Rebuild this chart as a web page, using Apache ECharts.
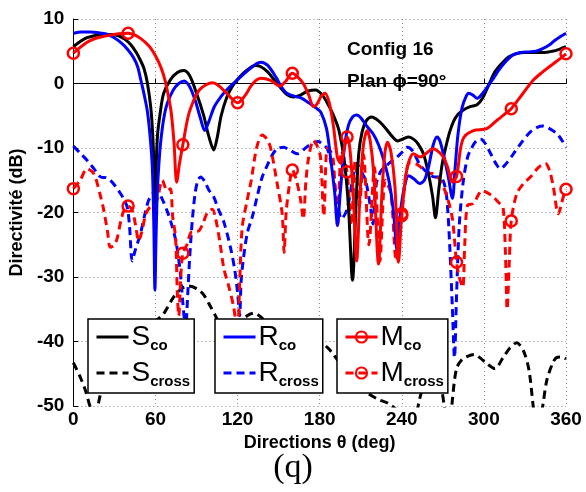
<!DOCTYPE html>
<html>
<head>
<meta charset="utf-8">
<script src="https://cdn.jsdelivr.net/npm/echarts@6/dist/echarts.min.js"></script>
<style>
html,body{margin:0;padding:0;background:#fff;}
#chart{width:586px;height:492px;}
</style>
</head>
<body>
<div id="chart"></div>
<script>
// ---- data (angle in degrees, directivity in dB) ----
const xTicks = [0, 60, 120, 180, 240, 300, 360];
const yTicks = [-50, -40, -30, -20, -10, 0, 10];
const markerAngles = [0, 40, 80, 120, 160, 200, 240, 280, 320, 360];

const sCo = [[0,5.7],[5,6.5],[10,7.1],[15,7.4],[20,7.6],[27,7.6],[33,7.4],[38,6.8],[42,6.0],[46,4.8],[49,3.6],[51.5,2.4],[54,0.2],[56.5,-3.6],[58,-8],[59,-14],[59.6,-29],[60.3,-15],[61.5,-8],[63.7,-4.2],[66,-1.5],[71,0.6],[76,1.7],[80.6,2.0],[85,1.2],[90,-1.5],[95,-4.8],[99,-8.2],[102.6,-10.3],[105,-8.5],[108,-5],[112,-2.2],[116,-0.5],[121,0.9],[127,2.1],[133,2.8],[137,2.6],[142,1.8],[147,0.5],[152,-0.8],[156,-1.7],[161,-2.1],[166,-1.8],[171,-1.2],[177,-1.0],[182,-1.8],[186,-3.2],[190,-4.9],[194,-7.2],[198,-12],[201,-19],[204,-30.5],[206.5,-19],[208.5,-11],[211,-7.5],[214,-5.8],[218,-5.2],[223,-5.8],[228,-6.9],[233,-8.2],[237,-8.9],[241,-8.6],[245,-8.3],[249,-8.7],[252,-9.4],[256,-11],[259.5,-14],[262.5,-17.5],[264.6,-20.8],[267,-16.5],[269.5,-12.5],[272,-10],[275,-7.5],[278,-5.8],[281,-4.8],[285,-4.1],[290,-3.6],[295,-3.3],[299,-2.3],[304,0],[308,1.8],[313,3.1],[318,4.1],[323,4.6],[330,4.8],[337,4.8],[344,4.8],[350,5.0],[355,5.3],[360,5.7]];

const sCross = [[0,-43.3],[5,-45.5],[9,-47.7],[13,-50.5],[16,-51],[20,-48],[28,-43],[36,-40],[45,-38.5],[55,-37.5],[62,-36.5],[66,-35.7],[73,-33.2],[79,-31.8],[84,-31.4],[90,-31.8],[95,-32.7],[100,-34.5],[105,-36.5],[110,-38.5],[115,-39],[120,-37.5],[127,-36],[132,-35.6],[137,-36.2],[145,-38],[155,-39],[165,-39.5],[172,-39.5],[180,-40],[186,-41],[190,-42],[197,-44],[205,-46],[215,-48],[223,-49],[230,-49.6],[238,-51],[244,-54],[247,-56],[251,-51],[256,-47],[262,-46.5],[268,-47],[271,-50],[274,-56],[277,-49],[280,-44.2],[284,-42.8],[288,-42.3],[293,-42],[297,-42.5],[302,-43.4],[308,-44.2],[314,-42.5],[319,-41],[324,-40.2],[329,-41.5],[333,-44.5],[336,-50],[339,-55],[343,-50],[346,-46],[350,-43.5],[353,-42.5],[357,-42.4],[360,-42.7]];

const rCo = [[0,7.8],[6,8.0],[12.7,8.0],[20,7.8],[25,7.6],[29,7.2],[35,6.3],[40,5.2],[44,4.0],[47,2.6],[49,0.8],[51.5,-1.5],[54,-4.2],[56,-8],[57.7,-13],[58.8,-22],[59.6,-32],[60.4,-24],[61.3,-17],[62.5,-12.5],[63.7,-9.3],[66,-5.5],[68.6,-3.1],[73,-1],[77,0],[81,0.4],[85,-0.5],[89,-2.6],[93,-5.5],[96,-7.3],[99,-5.9],[103,-3.6],[108,-2.0],[112,-1.0],[120,0.6],[128,2.1],[134,3.1],[137,3.3],[142,2.8],[148,1.0],[152,-0.5],[156,-1.5],[162,-2.0],[166,-2.2],[172,-3.0],[178,-3.9],[181,-4.5],[185,-7],[188,-11.6],[191,-17],[193,-22],[195,-17],[198,-10],[201,-6.5],[204,-5.2],[207,-4.9],[210,-5.3],[214,-6.5],[219,-7.8],[223,-9.5],[227,-12],[231,-15.5],[234,-20],[236.6,-26],[239,-20],[242,-16],[245,-14.3],[249,-14.8],[253,-15.5],[256.5,-15],[259.5,-13],[263,-9.5],[265.8,-8.3],[268,-9],[271,-11.5],[274,-14.5],[277,-17.8],[279,-13],[281,-8],[284,-3.8],[287,-2],[289,-1.5],[292,-1.8],[295,-2.3],[298,-1.8],[301,-1.0],[306,0.5],[311,2.1],[316,3.4],[321,4.4],[327,4.8],[333,4.9],[338,5.0],[343,5.4],[348,6.0],[352,6.7],[356,7.3],[360,7.8]];

const rCross = [[0,-9.7],[5,-10.8],[10,-11.9],[15,-13.2],[20,-14.5],[24,-14.6],[27,-15],[31,-16],[34.6,-17.1],[37,-18],[39.4,-19.2],[41,-22],[43,-27.5],[45,-26],[49,-23.3],[52,-20.5],[55,-18.1],[58.6,-16.9],[61,-16.6],[64,-17.5],[68.6,-19.8],[72,-22],[75,-24.5],[78,-29],[80,-34],[82,-38],[83.5,-33],[85,-27],[87,-21],[89,-17],[91,-15],[93,-14.5],[96,-15.2],[99,-16.5],[102.6,-17.6],[106,-19.5],[110,-21.5],[115,-25.6],[118,-29],[120,-32.4],[121.5,-36],[122.5,-31],[123.5,-28.5],[127,-23.3],[131,-20.5],[134,-17.8],[138,-14.5],[141.7,-12.7],[145,-11.2],[149,-10.1],[153.6,-9.9],[158,-10.3],[163.6,-10.9],[168,-10.3],[172,-9.6],[176,-9.2],[179,-9.0],[182,-9.4],[185.5,-10.1],[188,-12],[190,-14.3],[192.8,-18.4],[196,-21],[200,-19.5],[204,-15],[207,-12.4],[210,-13.5],[213.5,-15],[217,-19],[219,-21.8],[221,-16],[224.4,-13.7],[230,-12.5],[236.6,-11.4],[240,-10.7],[244,-9.9],[248,-10.5],[253,-12.5],[258.5,-13.8],[264,-14.5],[268,-14.5],[271,-15.5],[273,-18],[275,-25],[277,-35],[278.5,-42.5],[280,-33],[282,-22],[285,-15],[288,-11.5],[290,-10.4],[294,-9],[297.5,-8.6],[301,-9.3],[305,-10.9],[309,-12.5],[312,-13.2],[316,-12.5],[321.6,-10.9],[328,-9],[334,-7.5],[339,-6.8],[343.5,-6.6],[348,-7],[353.4,-7.8],[357,-8.8],[360,-9.9]];

const mCo = [[0,4.7],[5,5.6],[10,6.4],[15,6.9],[20,7.2],[27,7.5],[33,7.7],[40,7.8],[45,7.5],[49,7.0],[53,6.3],[56.5,5.5],[60,4.3],[64,2.5],[67,0.5],[69.5,-2],[71.5,-4.5],[73.5,-9],[75.5,-15.3],[77.5,-12.5],[80,-9.5],[84,-5],[88,-2.6],[92,-1],[97,-0.2],[101.5,0.1],[106,-0.3],[112.5,-1.6],[116,-2.4],[120,-3.0],[125,-2],[129.5,-0.5],[133,0.4],[137,0.8],[144,0.5],[151,-0.4],[155,0.3],[160,1.6],[164,1.0],[168,0],[172,-1.8],[175.5,-3.6],[178,-3.2],[181,-2.0],[184,-1.5],[187,-3],[190,-6.5],[193,-11.5],[195.5,-12.4],[198,-10],[200,-8.3],[202,-10],[204.5,-17],[207,-27.5],[209.5,-17],[212,-9.5],[214.7,-7.3],[217,-9],[219.5,-14],[223,-28],[225.5,-17],[227.5,-11],[229.5,-9.1],[232,-10.5],[235,-16],[237.6,-27.7],[240,-20.2],[244,-13],[248.6,-10.9],[253.6,-11.4],[258,-10.8],[263,-10.1],[267,-10.6],[270.4,-11.4],[273.5,-13],[276.8,-15.3],[280,-14.4],[283,-10],[285.5,-8.3],[292.4,-7.3],[302,-7.0],[309.6,-5.7],[315,-4.8],[320,-3.9],[328,-1.7],[336,0.5],[343,1.8],[351,3.1],[356,3.9],[360,4.6]];

const mCross = [[0,-16.3],[5,-15],[10,-13.2],[15,-14],[20,-17.6],[22,-19.4],[25,-23],[27,-25.4],[30,-25],[32,-24],[35,-21],[37,-19.7],[40,-19.0],[43,-19.7],[45.5,-22],[47.7,-24.4],[50,-23],[53,-20.2],[56.5,-19],[61,-18.1],[65,-15],[68.6,-16.6],[71,-16.3],[72.5,-20.5],[74.7,-23.9],[76,-32.7],[77,-36],[78.5,-30],[80,-26.3],[83,-25],[86,-23.1],[89,-23],[92,-22.8],[95,-21.5],[98,-20],[101.5,-19.5],[104,-21],[107,-24.5],[110,-28.7],[113.5,-31.4],[117,-34.5],[120,-38.5],[121.5,-31],[123.4,-22.3],[127,-18.1],[130,-15],[134,-9.9],[138,-8.0],[141,-8.5],[144,-9.9],[149,-15.6],[152.6,-20.2],[154,-26.2],[155.5,-20],[158,-15.5],[160,-13.4],[163,-15],[166,-18],[168,-21],[170,-15],[172,-11.4],[175.5,-8.8],[178,-9.6],[180.6,-11.4],[183,-20.5],[185.5,-10],[188,-10.5],[190,-12],[193,-22],[196,-10.5],[200,-13.7],[203,-22],[206,-12],[209,-19],[212,-11],[216,-25],[220,-13],[224,-27.5],[228,-15],[232,-17],[236,-27.5],[240,-20.5],[243,-14],[246,-12.3],[250,-12.4],[254,-13],[258,-13.8],[263,-14],[268,-15],[273,-17.5],[277,-21],[280,-27.7],[282,-30],[284.5,-31.6],[286,-25],[288,-18.9],[292.4,-18.6],[298.7,-16.6],[303,-17],[307,-17.6],[311,-18.5],[314,-19.2],[315.7,-26],[317,-35],[318.5,-28],[320,-21.3],[324,-17.1],[329,-15.5],[334,-14.5],[340,-13],[345,-12.4],[348,-13.5],[350.8,-16.1],[354.4,-20.2],[358,-17.6],[360,-16.4]];

// ---- chart ----
const FONT = '"Liberation Sans", Arial, Helvetica, sans-serif';
const BLACK = '#000000', BLUE = '#0000ff', RED = '#ff0000';
const DASH = [8, 5];

function withMarkers(arr) {
  return arr.map(p => markerAngles.includes(p[0])
    ? { value: p, symbol: 'circle' }
    : { value: p, symbol: 'none' });
}

function lineSeries(name, data, color, dashed, markers) {
  return {
    name: name,
    type: 'line',
    data: markers ? withMarkers(data) : data,
    smooth: 0.3,
    clip: true,
    symbol: markers ? 'circle' : 'none',
    symbolSize: 11,
    showSymbol: markers,
    showAllSymbol: true,
    lineStyle: { color: color, width: 3, type: dashed ? DASH : 'solid' },
    itemStyle: markers
      ? { color: 'rgba(255,255,255,0)', borderColor: color, borderWidth: 2.5 }
      : { color: 'rgba(255,255,255,0)', borderColor: 'rgba(255,255,255,0)', borderWidth: 0 },
    emphasis: { disabled: true },
    silent: true,
    animation: false
  };
}

const richText = {
  m: { fontSize: 28, fontFamily: FONT, color: '#000', lineHeight: 32, verticalAlign: 'middle' },
  s: { fontSize: 15, fontFamily: FONT, fontWeight: 'bold', color: '#000', lineHeight: 10, verticalAlign: 'bottom' }
};

function legendBox(names, left) {
  return {
    data: names,
    left: left,
    top: 319,
    orient: 'vertical',
    backgroundColor: '#fff',
    borderColor: '#000',
    borderWidth: 1.5,
    borderRadius: 0,
    padding: [4, 4, 4, 7],
    itemGap: 6,
    itemWidth: 32,
    itemHeight: 14,
    selectedMode: false,
    lineStyle: { width: 3 },
    z: 10,
    formatter: n => '{m|' + n.charAt(0) + '}{s|' + n.slice(1) + '}',
    textStyle: { color: '#000', rich: richText, padding: [0, 0, 0, -2] }
  };
}

const chart = echarts.init(document.getElementById('chart'), null, { renderer: 'canvas' });
chart.setOption({
  animation: false,
  backgroundColor: '#fff',
  title: {
    text: '(q)',
    left: 'center',
    top: 446,
    textStyle: { fontFamily: '"Liberation Serif", "Times New Roman", serif', fontWeight: 'normal', fontSize: 34, color: '#000' }
  },
  grid: { left: 73, right: 20, top: 19, bottom: 86, containLabel: false },
  xAxis: {
    type: 'value', min: 0, max: 360, interval: 60,
    name: 'Directions θ (deg)', nameLocation: 'middle', nameGap: 18,
    nameTextStyle: { fontFamily: FONT, fontWeight: 'bold', fontSize: 18, color: '#000' },
    axisLine: { show: true, lineStyle: { color: '#000', width: 1 } },
    axisTick: { show: true, inside: true, length: 5, lineStyle: { color: '#000' } },
    axisLabel: { fontFamily: FONT, fontWeight: 'bold', fontSize: 19, color: '#000', margin: 4,
      formatter: v => xTicks.includes(v) ? String(v) : '' },
    splitLine: { show: true, lineStyle: { color: '#8a8a8a', type: [1, 3], width: 1 } }
  },
  yAxis: {
    type: 'value', min: -50, max: 10, interval: 10,
    name: 'Directivité (dB)', nameLocation: 'middle', nameGap: 46,
    nameTextStyle: { fontFamily: FONT, fontWeight: 'bold', fontSize: 18, color: '#000' },
    axisLine: { show: true, lineStyle: { color: '#000', width: 1 } },
    axisTick: { show: true, inside: true, length: 5, lineStyle: { color: '#000' } },
    axisLabel: { fontFamily: FONT, fontWeight: 'bold', fontSize: 19, color: '#000', margin: 9,
      formatter: v => yTicks.includes(v) ? String(v) : '' },
    splitLine: { show: true, lineStyle: { color: '#8a8a8a', type: [1, 3], width: 1 } }
  },
  legend: [
    legendBox(['Sco', 'Scross'], 88),
    legendBox(['Rco', 'Rcross'], 215),
    legendBox(['Mco', 'Mcross'], 337)
  ],
  graphic: [
    { type: 'text', left: 347, top: 40, z: 20,
      style: { text: 'Config 16', font: 'bold 19px ' + FONT, fill: '#000' } },
    { type: 'text', left: 347, top: 72, z: 20,
      style: { text: 'Plan ϕ=90°', font: 'bold 19px ' + FONT, fill: '#000' } }
  ],
  series: [
    lineSeries('Scross', sCross, BLACK, true, false),
    lineSeries('Rcross', rCross, BLUE, true, false),
    lineSeries('Mcross', mCross, RED, true, true),
    lineSeries('Sco', sCo, BLACK, false, false),
    lineSeries('Rco', rCo, BLUE, false, false),
    lineSeries('Mco', mCo, RED, false, true)
  ]
});
</script>
</body>
</html>
